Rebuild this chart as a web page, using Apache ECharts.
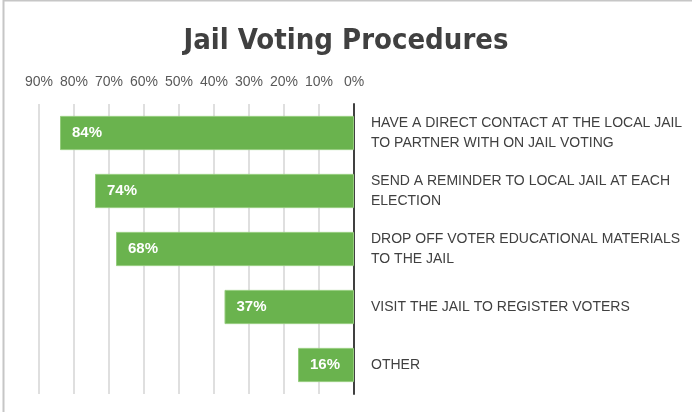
<!DOCTYPE html>
<html>
<head>
<meta charset="utf-8">
<script src="https://cdn.jsdelivr.net/npm/echarts@6/dist/echarts.min.js"></script>
<style>
  html, body { margin: 0; padding: 0; background: #fff; }
  #chart { width: 692px; height: 412px; }
</style>
</head>
<body>
<div id="chart"></div>
<script>
// Procedures, top to bottom
const procedures = [
  'HAVE A DIRECT CONTACT AT THE LOCAL JAIL\nTO PARTNER WITH ON JAIL VOTING',
  'SEND A REMINDER TO LOCAL JAIL AT EACH\nELECTION',
  'DROP OFF VOTER EDUCATIONAL MATERIALS\nTO THE JAIL',
  'VISIT THE JAIL TO REGISTER VOTERS',
  'OTHER'
];
// Share of respondents, in percent
const shares = [84, 74, 68, 37, 16];
const axisMax = 90;
const axisStep = 10;

const chart = echarts.init(document.getElementById('chart'), null, { renderer: 'canvas' });

chart.setOption({
  animation: false,
  backgroundColor: '#ffffff',
  title: {
    text: 'Jail Voting Procedures',
    left: 'center',
    top: 22,
    textStyle: {
      fontFamily: '"DejaVu Sans Condensed", "Liberation Sans Narrow", sans-serif',
      fontWeight: 'bold',
      fontSize: 29,
      color: '#404040'
    }
  },
  graphic: [
    { type: 'line', shape: { x1: 3.5, y1: 0, x2: 3.5, y2: 412 }, style: { stroke: '#c6c6c6', lineWidth: 2 }, silent: true },
    { type: 'line', shape: { x1: 3, y1: 0.5, x2: 692, y2: 0.5 }, style: { stroke: '#c6c6c6', lineWidth: 2 }, silent: true }
  ],
  grid: { left: 39, right: 338, top: 104, bottom: 18, containLabel: false },
  xAxis: {
    type: 'value',
    position: 'top',
    inverse: true,
    min: 0,
    max: axisMax,
    interval: axisStep,
    axisLine: { show: false },
    axisTick: { show: false },
    axisLabel: {
      formatter: '{value}%',
      color: '#595959',
      fontSize: 14,
      fontFamily: '"Liberation Sans", Arial, sans-serif',
      margin: 15
    },
    splitLine: { show: true, lineStyle: { color: '#d4d4d4', width: 1.5 } }
  },
  yAxis: {
    type: 'category',
    position: 'right',
    inverse: true,
    data: procedures,
    axisLine: { show: true, lineStyle: { color: '#404040', width: 2 } },
    axisTick: { show: false },
    axisLabel: {
      align: 'left',
      margin: 17,
      color: '#404040',
      fontSize: 14,
      lineHeight: 20,
      fontFamily: '"Liberation Sans", Arial, sans-serif'
    }
  },
  series: [{
    type: 'bar',
    data: shares,
    barCategoryGap: '41%',
    itemStyle: { color: '#6ab34e', borderColor: '#95cc7d', borderWidth: 1 },
    label: {
      show: true,
      position: 'insideLeft',
      distance: 12,
      formatter: '{c}%',
      color: '#ffffff',
      fontWeight: 'bold',
      fontSize: 15,
      fontFamily: '"Liberation Sans", Arial, sans-serif'
    }
  }]
});
</script>
</body>
</html>
